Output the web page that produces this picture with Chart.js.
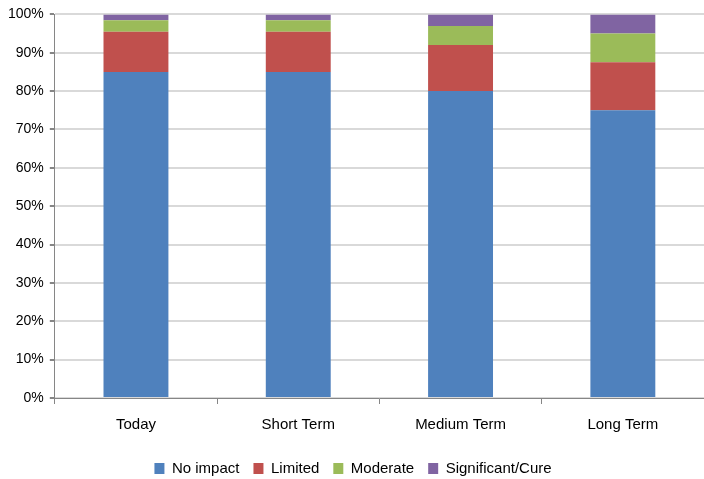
<!DOCTYPE html>
<html>
<head>
<meta charset="utf-8">
<script src="https://cdn.jsdelivr.net/npm/chart.js@4/dist/chart.umd.min.js"></script>
<style>
  html, body { margin: 0; padding: 0; background: #fff; }
  #wrap { width: 704px; height: 479px; }
</style>
</head>
<body>
<div id="wrap"><canvas id="chart" width="704" height="479"></canvas></div>
<script>
const categories = ['Today', 'Short Term', 'Medium Term', 'Long Term'];
const noImpact = [85, 85, 80, 75];
const limited = [10.5, 10.5, 12, 12.5];
const moderate = [3, 3, 5, 7.5];
const significant = [1.5, 1.5, 3, 5];
const yTicks = [0, 10, 20, 30, 40, 50, 60, 70, 80, 90, 100];

const fontFamily = '"Liberation Sans Narrow", "Arial Narrow", "Liberation Sans", sans-serif';

function series(label, data, color) {
    return {
        label: label,
        data: data,
        backgroundColor: color,
        borderWidth: 0,
        barPercentage: 0.4,
        categoryPercentage: 1.0
    };
}

new Chart(document.getElementById('chart'), {
    type: 'bar',
    data: {
        labels: categories,
        datasets: [
            series('No impact', noImpact, '#4F81BD'),
            series('Limited', limited, '#C0504D'),
            series('Moderate', moderate, '#9BBB59'),
            series('Significant/Cure', significant, '#8064A2')
        ]
    },
    options: {
        responsive: false,
        animation: false,
        layout: { padding: { top: 8, right: 0, bottom: -7, left: 2 } },
        scales: {
            x: {
                stacked: true,
                offset: true,
                grid: {
                    offset: true,
                    drawOnChartArea: false,
                    tickLength: 6,
                    color: '#868686'
                },
                border: { color: '#868686', width: 1 },
                ticks: {
                    color: '#000',
                    padding: 12,
                    font: { family: fontFamily, size: 15 }
                },
                afterFit: axis => { axis.height = 49; }
            },
            y: {
                stacked: true,
                min: 0,
                max: 100,
                afterBuildTicks: axis => {
                    axis.ticks = yTicks.map(v => ({ value: v }));
                },
                grid: {
                    color: '#d9d9d9',
                    lineWidth: 2,
                    tickLength: 5,
                    tickColor: '#868686'
                },
                border: { color: '#868686', width: 1 },
                ticks: {
                    color: '#000',
                    padding: 6,
                    font: { family: fontFamily, size: 14 },
                    callback: v => v + '%'
                }
            }
        },
        plugins: {
            legend: {
                position: 'bottom',
                labels: {
                    boxWidth: 10,
                    boxHeight: 11,
                    padding: 14,
                    color: '#000',
                    font: { family: fontFamily, size: 15 }
                }
            },
            tooltip: { enabled: false }
        }
    }
});
</script>
</body>
</html>
